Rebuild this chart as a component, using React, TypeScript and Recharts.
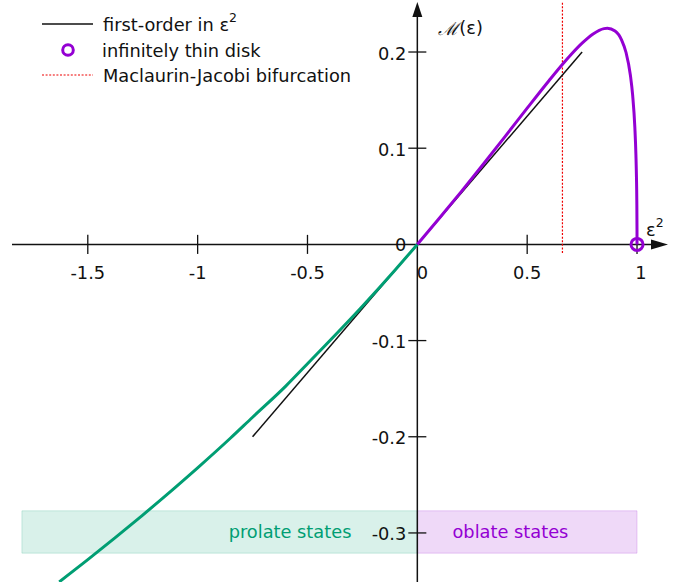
import React from 'react';
import {
    ComposedChart,
    Line,
    XAxis,
    YAxis,
    ReferenceLine,
    ReferenceArea,
    ReferenceDot
} from 'recharts';

// eps^2 < 0 : prolate branch
const prolateEps2 = [-1.63, -1.5, -1.375, -1.25, -1.0, -0.85, -0.75, -0.6, -0.5, -0.25, -0.1, 0];
const prolateM = [-0.3509, -0.3278, -0.3049, -0.2814, -0.2323, -0.2013, -0.1797, -0.1476, -0.1241, -0.0643, -0.0263, 0];

// eps^2 > 0 : oblate branch (ends at the infinitely thin disk)
const oblateEps2 = [0, 0.1, 0.2, 0.3, 0.4, 0.5, 0.6, 0.66, 0.7, 0.75, 0.8, 0.85, 0.865, 0.9, 0.93, 0.95, 0.97, 0.98, 0.99, 0.995, 0.9975, 0.999, 0.9999, 1];
const oblateM = [0, 0.0271, 0.0549, 0.0833, 0.1123, 0.1416, 0.1704, 0.187, 0.1974, 0.2092, 0.2188, 0.2243, 0.2247, 0.2218, 0.2124, 0.1995, 0.1756, 0.1554, 0.122, 0.0929, 0.0692, 0.0458, 0.0153, 0];

// first-order approximation segment
const firstOrderEps2 = [-0.75, 0.75];
const firstOrderM = [-0.2, 0.2];

const bifurcationEps2 = 0.6605;
const diskEps2 = 1;

const xTicks = [-1.5, -1, -0.5, 0.5, 1];
const xTickLabels = ['-1.5', '-1', '-0.5', '0.5', '1'];
const yTicks = [-0.3, -0.2, -0.1, 0.1, 0.2];
const yTickLabels = ['-0.3', '-0.2', '-0.1', '0.1', '0.2'];

const xDomain = [-1.845, 1.141];
const yDomain = [-0.351, 0.252];

const GREEN = '#009E73';
const PURPLE = '#9400D3';
const INK = '#111';
const FONT = '"DejaVu Sans", sans-serif';

const prolateData = prolateEps2.map((x, i) => ({ x, y: prolateM[i] }));
const oblateData = oblateEps2.map((x, i) => ({ x, y: oblateM[i] }));
const firstOrderData = firstOrderEps2.map((x, i) => ({ x, y: firstOrderM[i] }));

// draws a text at the scaled position of a ReferenceDot
const textShape = (text: string, opts: { dx?: number; dy?: number; anchor?: string; color?: string; size?: number }) =>
    (p: any) => (
        <text
            x={p.cx + (opts.dx || 0)}
            y={p.cy + (opts.dy || 0)}
            textAnchor={opts.anchor || 'middle'}
            dominantBaseline="central"
            fill={opts.color || INK}
            fontSize={opts.size || 17.8}
            fontFamily={FONT}
        >
            {text}
        </text>
    );

function LegendBox() {
    return (
        <svg width={360} height={90} style={{ display: 'block' }}>
            <line x1={42} y1={24} x2={93} y2={24} stroke={INK} strokeWidth={1.5} />
            <text x={103} y={24} dominantBaseline="central" fontSize={17.8} fontFamily={FONT} fill={INK}>
                first-order in ε<tspan dy={-7} fontSize={12.5}>2</tspan>
            </text>
            <circle cx={68} cy={50} r={5.3} fill="none" stroke={PURPLE} strokeWidth={3} />
            <text x={102} y={50} dominantBaseline="central" fontSize={17.8} fontFamily={FONT} fill={INK}>
                infinitely thin disk
            </text>
            <line x1={42} y1={75} x2={93} y2={75} stroke="#e00" strokeWidth={1.2} strokeDasharray="2 1.6" />
            <text x={103} y={75} dominantBaseline="central" fontSize={17.8} fontFamily={FONT} fill={INK}>
                Maclaurin-Jacobi bifurcation
            </text>
        </svg>
    );
}

export default function App() {
    return (
        <div style={{ position: 'absolute', left: 0, top: 0, width: 688, height: 588, background: '#fff' }}>
            <ComposedChart
                width={688}
                height={588}
                margin={{ top: 2, right: 20, bottom: 6, left: 12 }}
            >
                <XAxis type="number" dataKey="x" domain={xDomain} allowDataOverflow hide />
                <YAxis type="number" dataKey="y" domain={yDomain} allowDataOverflow hide />

                {/* state bands */}
                <ReferenceArea x1={-1.8} x2={0} y1={-0.321} y2={-0.277} fill={GREEN} fillOpacity={0.15} stroke={GREEN} strokeOpacity={0.18} />
                <ReferenceArea x1={0} x2={diskEps2} y1={-0.321} y2={-0.277} fill={PURPLE} fillOpacity={0.15} stroke={PURPLE} strokeOpacity={0.18} />

                {/* axes */}
                <ReferenceLine segment={[{ x: xDomain[0], y: 0 }, { x: 1.07, y: 0 }]} stroke={INK} strokeWidth={1.5} />
                <ReferenceLine segment={[{ x: 0, y: yDomain[0] }, { x: 0, y: 0.24 }]} stroke={INK} strokeWidth={1.5} />
                <ReferenceDot
                    x={xDomain[1]}
                    y={0}
                    r={1}
                    shape={(p: any) => (
                        <polygon points={`${p.cx},${p.cy} ${p.cx - 17},${p.cy - 5} ${p.cx - 17},${p.cy + 5}`} fill={INK} />
                    )}
                />
                <ReferenceDot
                    x={0}
                    y={yDomain[1]}
                    r={1}
                    shape={(p: any) => (
                        <polygon points={`${p.cx},${p.cy} ${p.cx - 5},${p.cy + 15} ${p.cx + 5},${p.cy + 15}`} fill={INK} />
                    )}
                />

                {xTicks.map((v) => (
                    <ReferenceLine key={'xt' + v} segment={[{ x: v, y: -0.0099 }, { x: v, y: 0.0099 }]} stroke={INK} strokeWidth={1.3} />
                ))}
                {yTicks.map((v) => (
                    <ReferenceLine key={'yt' + v} segment={[{ x: -0.041, y: v }, { x: 0.041, y: v }]} stroke={INK} strokeWidth={1.3} />
                ))}
                {xTicks.map((v, i) => (
                    <ReferenceDot key={'xl' + v} x={v} y={0} r={1} shape={textShape(xTickLabels[i], { dy: 28, dx: v === 1 ? 4 : 0 })} />
                ))}
                {yTicks.map((v, i) => (
                    <ReferenceDot key={'yl' + v} x={0} y={v} r={1} shape={textShape(yTickLabels[i], { dx: -11, dy: 1, anchor: 'end' })} />
                ))}
                <ReferenceDot x={0} y={0} r={1} shape={textShape('0', { dx: -11, anchor: 'end' })} />
                <ReferenceDot x={0} y={0} r={1} shape={textShape('0', { dx: 5, dy: 28 })} />

                {/* axis titles */}
                <ReferenceDot
                    x={0}
                    y={0.225}
                    r={1}
                    shape={(p: any) => (
                        <text x={p.cx + 21} y={p.cy} dominantBaseline="central" fontSize={17.8} fontFamily={FONT} fill={INK}>
                            <tspan fontFamily="'DejaVu Serif', serif" fontStyle="italic">ℳ</tspan>(ε)
                        </text>
                    )}
                />
                <ReferenceDot
                    x={diskEps2}
                    y={0}
                    r={1}
                    shape={(p: any) => (
                        <text x={p.cx + 9} y={p.cy - 15} dominantBaseline="central" fontSize={17.8} fontFamily={FONT} fill={INK}>
                            ε<tspan dy={-7} fontSize={12.5}>2</tspan>
                        </text>
                    )}
                />

                {/* band labels */}
                <ReferenceDot x={-0.3} y={-0.299} r={1} shape={textShape('prolate states', { anchor: 'end', color: GREEN, dy: -0.5 })} />
                <ReferenceDot x={0.16} y={-0.299} r={1} shape={textShape('oblate states', { anchor: 'start', color: PURPLE, dy: -0.5 })} />

                {/* bifurcation */}
                <ReferenceLine
                    segment={[{ x: bifurcationEps2, y: -0.009 }, { x: bifurcationEps2, y: yDomain[1] }]}
                    stroke="#e00"
                    strokeWidth={1.2}
                    strokeDasharray="2 1.6"
                />

                <Line data={firstOrderData} dataKey="y" type="linear" stroke={INK} strokeWidth={1.5} dot={false} isAnimationActive={false} />
                <Line data={prolateData} dataKey="y" type="monotone" stroke={GREEN} strokeWidth={3} dot={false} isAnimationActive={false} />
                <Line data={oblateData} dataKey="y" type="monotone" stroke={PURPLE} strokeWidth={3} dot={false} isAnimationActive={false} />

                <ReferenceDot x={diskEps2} y={0} r={6} fill="none" stroke={PURPLE} strokeWidth={3} />
            </ComposedChart>
            <div style={{ position: 'absolute', left: 0, top: 0 }}>
                <LegendBox />
            </div>
        </div>
    );
}
